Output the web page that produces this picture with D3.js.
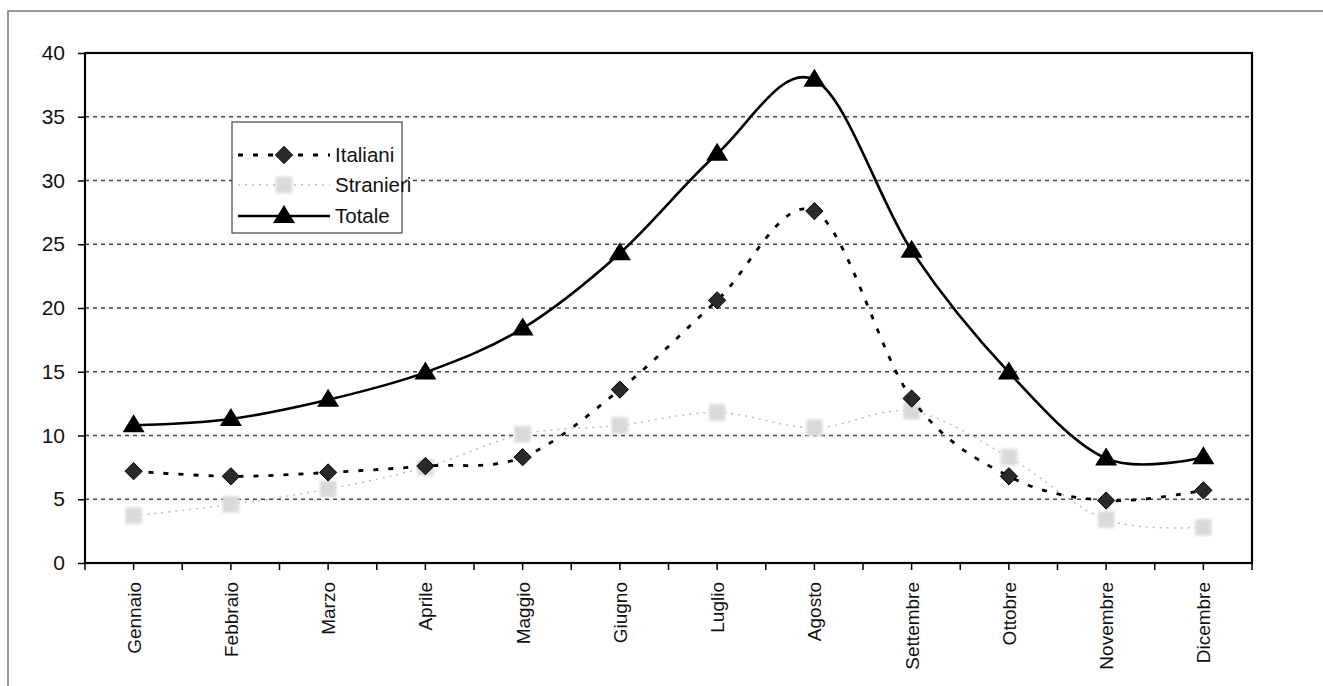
<!DOCTYPE html>
<html>
    <head>
        <meta charset="utf-8">
        <script src="https://d3js.org/d3.v7.min.js"></script>
        <style>
            body { margin: 0; background: #fff; }
            text { font-family: "Liberation Sans", Arial, sans-serif; fill: #111; }
        </style>
    </head>
    <body>
        <div id="chartContainer"></div>
        <script type="text/javascript">

        // Months on the x axis
        var mesi = ["Gennaio", "Febbraio", "Marzo", "Aprile", "Maggio", "Giugno",
                    "Luglio", "Agosto", "Settembre", "Ottobre", "Novembre", "Dicembre"];

        // Series values
        var italiani  = [7.2, 6.8, 7.1, 7.6, 8.3, 13.6, 20.6, 27.6, 12.9, 6.8, 4.9, 5.7];
        var stranieri = [3.7, 4.6, 5.8, 7.5, 10.1, 10.8, 11.8, 10.6, 11.9, 8.3, 3.4, 2.8];
        var totale    = [10.8, 11.3, 12.8, 14.95, 18.4, 24.3, 32.1, 37.9, 24.5, 14.95, 8.2, 8.3];

        var yTicks = [0, 5, 10, 15, 20, 25, 30, 35, 40];

        var W = 1323, H = 686;
        // plot area edges (note: "top" would clash with window.top)
        var pLeft = 85, pRight = 1252, pTop = 53, pBottom = 563;

        var svg = d3.select("#chartContainer").append("svg")
            .attr("width", W).attr("height", H);

        // outer frame of the scanned page (only top and left edges visible)
        svg.append("path")
            .attr("d", "M8," + H + "V11H" + W)
            .attr("fill", "none").attr("stroke", "#777").attr("stroke-width", 1.5);

        var x = d3.scalePoint().domain(mesi).range([pLeft, pRight]).padding(0.5);
        var y = d3.scaleLinear().domain([0, 40]).range([pBottom, pTop]);

        // dashed grid lines
        svg.append("g").selectAll("line")
            .data(yTicks.filter(function (d) { return d > 0 && d < 40; }))
            .enter().append("line")
            .attr("x1", pLeft).attr("x2", pRight)
            .attr("y1", function (d) { return y(d); })
            .attr("y2", function (d) { return y(d); })
            .attr("stroke", "#444").attr("stroke-width", 1.3)
            .attr("stroke-dasharray", "4,4");

        // plot area border
        svg.append("rect")
            .attr("x", pLeft).attr("y", pTop)
            .attr("width", pRight - pLeft).attr("height", pBottom - pTop)
            .attr("fill", "none").attr("stroke", "#000").attr("stroke-width", 2.2);

        // y axis
        var yAxis = d3.axisLeft(y).tickValues(yTicks).tickSize(7).tickPadding(13);
        var gy = svg.append("g").attr("transform", "translate(" + pLeft + ",0)").call(yAxis);
        gy.select(".domain").remove();
        gy.selectAll("line").attr("stroke", "#000").attr("stroke-width", 1.5);
        gy.selectAll("text").style("font-size", "21px").attr("fill", "#111")
            .style("font-family", "'Liberation Sans', Arial, sans-serif");

        // x axis: ticks at every half step, labels rotated
        var step = x.step();
        var halfTicks = d3.range(0, mesi.length * 2 + 1).map(function (i) { return pLeft + i * step / 2; });
        svg.append("g").selectAll("line").data(halfTicks).enter().append("line")
            .attr("x1", function (d) { return d; }).attr("x2", function (d) { return d; })
            .attr("y1", pBottom).attr("y2", pBottom + 7)
            .attr("stroke", "#000").attr("stroke-width", 1.5);

        svg.append("g").selectAll("text").data(mesi).enter().append("text")
            .attr("transform", function (d) {
                return "translate(" + (x(d) + 7) + "," + (pBottom + 19) + ") rotate(-90)";
            })
            .attr("text-anchor", "end")
            .style("font-size", "19px")
            .text(function (d) { return d; });

        var line = d3.line()
            .x(function (d, i) { return x(mesi[i]); })
            .y(function (d) { return y(d); })
            .curve(d3.curveCatmullRom.alpha(0));

        // marker shapes
        function diamond(g, cx, cy) {
            g.append("path")
                .attr("d", d3.symbol().type(d3.symbolDiamond2).size(190)())
                .attr("transform", "translate(" + cx + "," + cy + ")")
                .attr("fill", "#2a2a2a").attr("stroke", "#000").attr("stroke-width", 1);
        }
        function square(g, cx, cy) {
            g.append("rect")
                .attr("x", cx - 8).attr("y", cy - 8).attr("width", 16).attr("height", 16)
                .attr("fill", "#d9d9d9").attr("stroke", "#e4e4e4").attr("stroke-width", 1)
                .attr("filter", "url(#blur)");
        }
        function triangle(g, cx, cy) {
            g.append("path")
                .attr("d", "M" + cx + "," + (cy - 11) + "L" + (cx + 11) + "," + (cy + 7) + "L" + (cx - 11) + "," + (cy + 7) + "Z")
                .attr("fill", "#000");
        }

        var defs = svg.append("defs");
        defs.append("filter").attr("id", "blur")
            .append("feGaussianBlur").attr("stdDeviation", 1.8);

        // Stranieri: light grey fine dotted line
        svg.append("path").datum(stranieri)
            .attr("d", line).attr("fill", "none")
            .attr("stroke", "#bdbdbd").attr("stroke-width", 1.5)
            .attr("stroke-dasharray", "2,5");
        var gs = svg.append("g");
        stranieri.forEach(function (v, i) { square(gs, x(mesi[i]), y(v)); });

        // Italiani: black dashed line
        svg.append("path").datum(italiani)
            .attr("d", line).attr("fill", "none")
            .attr("stroke", "#000").attr("stroke-width", 2.8)
            .attr("stroke-dasharray", "5,10");
        var gi = svg.append("g");
        italiani.forEach(function (v, i) { diamond(gi, x(mesi[i]), y(v)); });

        // Totale: solid black line
        svg.append("path").datum(totale)
            .attr("d", line).attr("fill", "none")
            .attr("stroke", "#000").attr("stroke-width", 2.6);
        var gt = svg.append("g");
        totale.forEach(function (v, i) { triangle(gt, x(mesi[i]), y(v)); });

        // Legend
        var lg = svg.append("g");
        lg.append("rect")
            .attr("x", 232).attr("y", 122).attr("width", 170).attr("height", 111)
            .attr("fill", "#fff").attr("stroke", "#444").attr("stroke-width", 1.2);

        var items = [
            { name: "Italiani", yy: 155 },
            { name: "Stranieri", yy: 185 },
            { name: "Totale", yy: 216 }
        ];
        items.forEach(function (it) {
            var l = lg.append("line")
                .attr("x1", 238).attr("x2", 330)
                .attr("y1", it.yy).attr("y2", it.yy);
            if (it.name === "Italiani") {
                l.attr("stroke", "#000").attr("stroke-width", 2.8).attr("stroke-dasharray", "5,10");
                diamond(lg, 284, it.yy);
            } else if (it.name === "Stranieri") {
                l.attr("stroke", "#bdbdbd").attr("stroke-width", 1.5).attr("stroke-dasharray", "2,5");
                square(lg, 284, it.yy);
            } else {
                l.attr("stroke", "#000").attr("stroke-width", 2.6);
                triangle(lg, 284, it.yy);
            }
            lg.append("text")
                .attr("x", 335).attr("y", it.yy + 7)
                .style("font-size", "20.5px")
                .text(it.name);
        });
        </script>
    </body>
</html>
